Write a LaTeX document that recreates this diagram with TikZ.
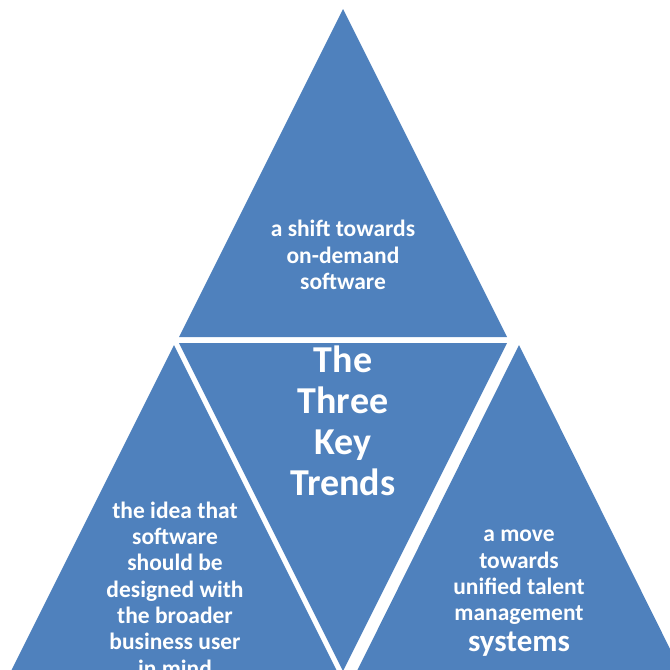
\documentclass[tikz,border=0pt]{standalone}
\usepackage{fontspec}
\setmainfont{Carlito}
\definecolor{trendblue}{HTML}{4F81BD}
\tikzset{
	piece/.style={fill=trendblue},
	trend/.style={text=white, align=center, inner sep=0pt,
		font=\bfseries\fontsize{23.5}{26.3}\selectfont},
	title/.style={text=white, align=center, inner sep=0pt,
		font=\bfseries\fontsize{38}{41}\selectfont},
}

\begin{document}
\begin{tikzpicture}[x=1pt,y=-1pt]
		\useasboundingbox (0,0) rectangle (670,670);
		\clip (0,0) rectangle (670,670);
		% corners of the four pieces
		\coordinate (t1) at (343,9);
		\coordinate (t2) at (179,337);
		\coordinate (t3) at (507,337);
		\coordinate (c1) at (179,343);
		\coordinate (c2) at (507,343);
		\coordinate (c3) at (343,671);
		\coordinate (l1) at (174,345);
		\coordinate (l2) at (10,673);
		\coordinate (l3) at (338,673);
		\coordinate (r1) at (519,345);
		\coordinate (r2) at (356,673);
		\coordinate (r3) at (682,673);
		\fill[piece] (t1) -- (t2) -- (t3) -- cycle;
		\fill[piece] (c1) -- (c2) -- (c3) -- cycle;
		\fill[piece] (l1) -- (l2) -- (l3) -- cycle;
		\fill[piece] (r1) -- (r2) -- (r3) -- cycle;
		% texts
		\node[trend] (shift) at (343,255) {a shift towards\\on-demand\\software};
		\node[title] (key) at (343,421) {The\\Three\\Key\\Trends};
		\node[trend] (idea) at (175,589) {the idea that\\software\\should be\\designed with\\the broader\\business user\\in mind};
		\node[trend, anchor=north] (move) at (519,530) {a move\\towards\\unified talent\\management\\[4pt]{\fontsize{31}{30}\selectfont systems}};
	\end{tikzpicture}
\end{document}
